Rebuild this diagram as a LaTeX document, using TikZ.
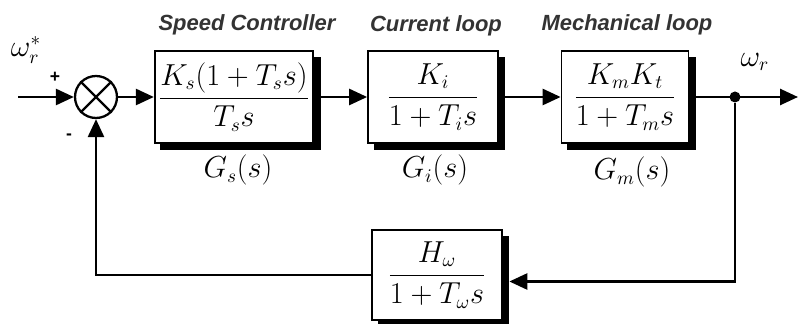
\documentclass[tikz,border=0pt]{standalone}
\usepackage{amsmath}
\usepackage{fontspec}
\setmainfont{Liberation Serif}
\setsansfont{Liberation Sans}
\usepackage{tikz}
\usetikzlibrary{positioning,arrows.meta}
\tikzset{
  block/.style={draw, rectangle, line width=1pt, fill=white, minimum width=2.6cm, minimum height=1.84cm, inner sep=2pt, font=\fontsize{16}{19}\selectfont},
  blockshadow/.style={block, fill=black, draw=black},
  sumnode/.style={draw, circle, line width=1.3pt, minimum size=0.84cm, inner sep=0pt},
  title/.style={font=\sffamily\bfseries\itshape\fontsize{12.5}{14}\selectfont, text=black!80},
  tag/.style={font=\fontsize{16}{19}\selectfont},
  sign/.style={font=\sffamily\bfseries\fontsize{10}{12}\selectfont},
  dot/.style={circle, fill=black, minimum size=0.22cm, inner sep=0pt},
  line/.style={-{Triangle[length=0.36cm, width=0.32cm]}, line width=1.5pt}
}

\begin{document}
\begin{tikzpicture}[x=0.02cm, y=-0.02cm]
    \useasboundingbox (0,0) rectangle (799,324);

    \node[sumnode] (sum) at (96,97) {};
    \draw[line width=1.3pt] (sum.north west) -- (sum.south east) (sum.north east) -- (sum.south west);

    % shadows under the blocks
    \node[blockshadow, minimum width=2.96cm] (speedsh) at (240.5,103.5) {\phantom{$\dfrac{K_s(1+T_s s)}{T_s s}$}};
    \node[blockshadow] (currentsh) at (439.5,103.5) {\phantom{$\dfrac{K_i}{1+T_i s}$}};
    \node[blockshadow, minimum width=2.54cm] (mechsh) at (631.5,103.5) {\phantom{$\dfrac{K_m K_t}{1+T_m s}$}};
    \node[blockshadow, minimum height=1.8cm] (hwsh) at (443.5,281.5) {\phantom{$\dfrac{H_\omega}{1+T_\omega s}$}};

    \node[block, minimum width=2.96cm] (speed) at (234,97) {$\dfrac{K_s(1+T_s s)}{T_s s}$};
    \node[block] (current) at (433,97) {$\dfrac{K_i}{1+T_i s}$};
    \node[block, minimum width=2.54cm] (mech) at (625,97) {$\dfrac{K_m K_t}{1+T_m s}$};
    \node[block, minimum height=1.8cm] (hw) at (437,275) {$\dfrac{H_\omega}{1+T_\omega s}$};

    \node[title] (tspeed) at (247,25) {Speed Controller};
    \node[title] (tcurrent) at (436,26) {Current loop};
    \node[title] (tmech) at (627,25) {Mechanical loop};

    \node[tag] (gs) at (238,170) {$G_s(s)$};
    \node[tag] (gi) at (435,170) {$G_i(s)$};
    \node[tag] (gm) at (632,172) {$G_m(s)$};

    \node[tag] (ref) at (26,50) {$\omega_r^*$};
    \node[tag] (wr) at (755,62) {$\omega_r$};
    \node[sign] (plus) at (55,77) {+};
    \node[sign] (minus) at (69,137) {-};

    \coordinate (in) at (18,97);
    \coordinate (out) at (798,97);
    \node[dot] (branch) at (735,97) {};

    \draw[line] (in) -- (sum);
    \draw[line] (sum) -- (speed);
    \draw[line] (speed) -- (current);
    \draw[line] (current) -- (mech);
    \draw[line] (mech) -- (out);
    \draw[line] (branch) |- (hwsh.east);
    \draw[line] (hw.west) -| (sum.south);
\end{tikzpicture}
\end{document}
